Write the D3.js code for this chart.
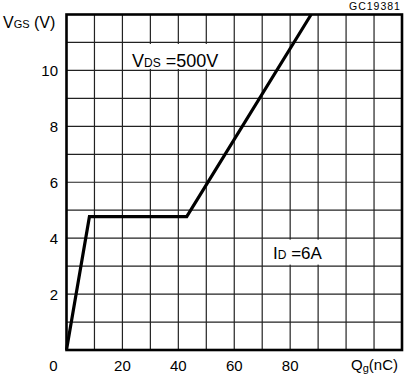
<!DOCTYPE html>
<html>
<head>
<meta charset="utf-8">
<script src="https://cdn.jsdelivr.net/npm/d3@7"></script>
<style>
  body { margin: 0; background: #fff; }
  text { font-family: 'Liberation Sans', Arial, sans-serif; fill: #000; }
</style>
</head>
<body>
<svg id="chart" width="405" height="379"></svg>
<script>
// gate charge curve, Qg (nC) vs Vgs (V)
const qg = [0, 8.2, 43, 87.5];
const vgs = [0, 4.77, 4.77, 12];
const xTicks = [0, 20, 40, 60, 80];
const yTicks = [2, 4, 6, 8, 10];
const xGrid = d3.range(10, 120, 10);
const yGrid = d3.range(1, 12, 1);

const svg = d3.select("#chart");
const plotLeft = 66.5, plotRight = 402, plotTop = 14.5, plotBottom = 350;

const x = d3.scaleLinear().domain([0, 120]).range([plotLeft, plotRight]);
const y = d3.scaleLinear().domain([0, 12]).range([plotBottom, plotTop]);

// grid
svg.append("g").selectAll("line").data(xGrid).join("line")
    .attr("x1", d => x(d)).attr("x2", d => x(d))
    .attr("y1", plotTop).attr("y2", plotBottom)
    .attr("stroke", "#222").attr("stroke-width", 1.2);

svg.append("g").selectAll("line").data(yGrid).join("line")
    .attr("x1", plotLeft).attr("x2", plotRight)
    .attr("y1", d => y(d)).attr("y2", d => y(d))
    .attr("stroke", "#222").attr("stroke-width", 1.2);

// white boxes behind annotations (gridlines are broken there)
svg.append("rect")
    .attr("x", x(20.6)).attr("y", y(11) + 1.5)
    .attr("width", x(55.5) - x(20.6)).attr("height", y(10) - y(11) - 3)
    .attr("fill", "#fff");
svg.append("rect")
    .attr("x", x(72.5)).attr("y", y(4) + 1.5)
    .attr("width", x(92.5) - x(72.5)).attr("height", y(3) - y(4) - 3)
    .attr("fill", "#fff");

// frame
svg.append("rect")
    .attr("x", plotLeft).attr("y", plotTop)
    .attr("width", plotRight - plotLeft).attr("height", plotBottom - plotTop)
    .attr("fill", "none").attr("stroke", "#000").attr("stroke-width", 2.6);

// curve
const line = d3.line().x(d => x(d)).y((d, i) => y(vgs[i]));
svg.append("path")
    .attr("d", line(qg))
    .attr("fill", "none")
    .attr("stroke", "#000")
    .attr("stroke-width", 3.2)
    .attr("stroke-linejoin", "miter");

// tick labels
svg.append("g").selectAll("text").data(xTicks).join("text")
    .attr("x", d => d === 0 ? x(d) - 13 : x(d))
    .attr("y", 371)
    .attr("text-anchor", "middle")
    .style("font-size", "15px")
    .text(d => d);

svg.append("g").selectAll("text").data(yTicks).join("text")
    .attr("x", 58)
    .attr("y", d => y(d) + 5.5)
    .attr("text-anchor", "end")
    .style("font-size", "15px")
    .text(d => d);

// axis titles
const yt = svg.append("text").attr("x", 3).attr("y", 28).style("font-size", "16px");
yt.append("tspan").text("V");
yt.append("tspan").style("font-size", "11px").text("GS");
yt.append("tspan").text(" (V)");

const xt = svg.append("text").attr("x", 351).attr("y", 370).style("font-size", "15px");
xt.append("tspan").text("Q");
xt.append("tspan").style("font-size", "11px").attr("dy", 2).text("g");
xt.append("tspan").attr("dy", -2).text("(nC)");

// annotations
const vds = svg.append("text").attr("x", 132).attr("y", 66.5).style("font-size", "18px");
vds.append("tspan").text("V");
vds.append("tspan").style("font-size", "12px").text("DS");
vds.append("tspan").text(" =500V");

const id = svg.append("text").attr("x", 273).attr("y", 259).style("font-size", "17px");
id.append("tspan").text("I");
id.append("tspan").style("font-size", "12px").text("D");
id.append("tspan").text(" =6A");

svg.append("text")
    .attr("x", 349).attr("y", 9.5)
    .style("font-size", "10.5px")
    .style("letter-spacing", "1px")
    .text("GC19381");
</script>
</body>
</html>
